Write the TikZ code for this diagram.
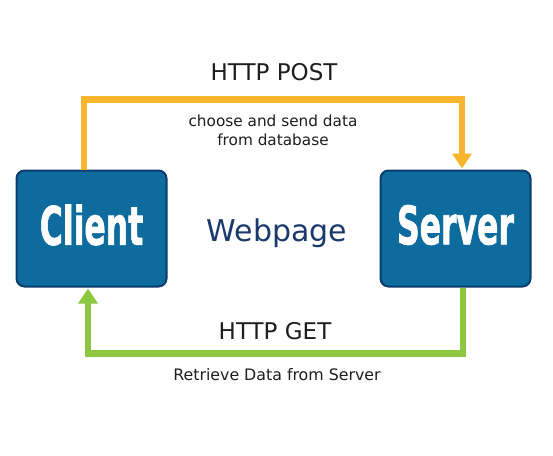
\documentclass[tikz,border=0pt]{standalone}
\usepackage{fontspec}
\setmainfont{DejaVu Sans}
\newfontfamily\boxfont[FakeBold=1.5]{DejaVu Sans Condensed}
\usetikzlibrary{arrows.meta}
\definecolor{boxfill}{HTML}{0D6B9E}
\definecolor{boxline}{HTML}{0A3C6C}
\definecolor{postcol}{HTML}{F8B62E}
\definecolor{getcol}{HTML}{8DC63F}
\definecolor{txt}{HTML}{1E1E1E}
\definecolor{navy}{HTML}{1A3A6C}
\begin{document}
\begin{tikzpicture}[x=1pt,y=1pt,
  box/.style={draw=boxline, line width=2pt, fill=boxfill, rounded corners=8pt,
    minimum width=150pt, minimum height=116pt, inner sep=0pt},
  boxtext/.style={text=white, font=\boxfont\bfseries\fontsize{53}{53}\selectfont},
  lbl/.style={text=txt, inner sep=0pt},
  conn/.style={line width=6.5pt, line join=miter},
]
\useasboundingbox[fill=white] (0,0) rectangle (553,-455);
\node[box] (client) at (91.5,-228.5) {};
\node[box] (server) at (455.5,-228.5) {};
\node[boxtext] (clienttext) at (91.5,-225) {\scalebox{0.66}[1]{Client}};
\node[boxtext] (servertext) at (455.5,-225) {\scalebox{0.66}[1]{Server}};
\node[text=navy, font=\fontsize{30}{30}\selectfont] (web) at (277,-233) {Webpage};
\draw[conn, postcol, -{Triangle[width=19pt,length=15pt]}]
  ([xshift=-7.5pt]client.north) -- ++(0,70) -| ([xshift=6.5pt,yshift=1pt]server.north);
\draw[conn, getcol, -{Triangle[width=19pt,length=15pt]}]
  ([xshift=7.5pt]server.south) -- ++(0,-66) -| ([xshift=-3.5pt,yshift=-1pt]client.south);
\node[lbl, font=\fontsize{23}{23}\selectfont] (post) at (274,-72) {HTTP POST};
\node[lbl, font=\fontsize{15.3}{19}\selectfont, align=center] (postsub) at (273,-130) {choose and send data\\from database};
\node[lbl, font=\fontsize{23}{23}\selectfont] (get) at (275,-331) {HTTP GET};
\node[lbl, font=\fontsize{15.8}{17}\selectfont] (getsub) at (277,-375) {Retrieve Data from Server};
\end{tikzpicture}
\end{document}
